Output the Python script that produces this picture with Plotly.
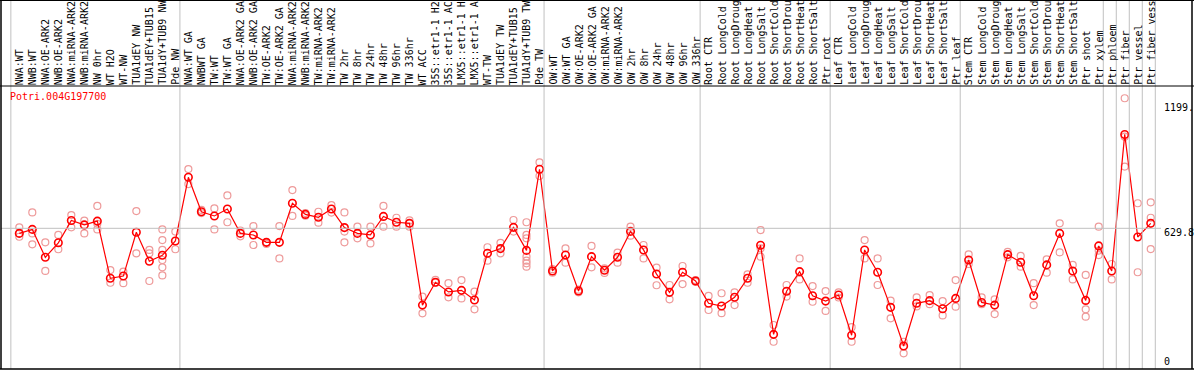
import plotly.graph_objects as go

gene = "Potri.004G197700"

categories = [
    "NWA:WT", "NWB:WT", "NWA:OE-ARK2", "NWB:OE-ARK2", "NWA:miRNA-ARK2", "NWB:miRNA-ARK2",
    "NW 0hr", "WT H2O", "WT-NW", "TUA1dEY NW", "TUA1dEY+TUB15", "TUA1dY+TUB9 NW", "Pde NW",
    "NWA:WT GA", "NWBWT GA", "TW:WT", "TW:WT GA", "NWA:OE-ARK2 GA", "NWB:OE-ARK2 GA",
    "TW:OE-ARK2", "TW:OE-ARK2 GA", "NWA:miRNA-ARK2", "NWB:miRNA-ARK2", "TW:miRNA-ARK2",
    "TW:miRNA-ARK2", "TW 2hr", "TW 8hr", "TW 24hr", "TW 48hr", "TW 96hr", "TW 336hr",
    "WT ACC", "35S::etr1-1 H2", "35S::etr1-1 AC", "LMX5::etr1-1 H", "LMX5::etr1-1 A",
    "WT-TW", "TUA1dEY TW", "TUA1dEY+TUB15", "TUA1dY+TUB9 TW", "Pde TW",
    "OW:WT", "OW:WT GA", "OW:OE-ARK2", "OW:OE-ARK2 GA", "OW:miRNA-ARK2", "OW:miRNA-ARK2",
    "OW 2hr", "OW 8hr", "OW 24hr", "OW 48hr", "OW 96hr", "OW 336hr",
    "Root CTR", "Root LongCold", "Root LongDroug", "Root LongHeat", "Root LongSalt",
    "Root ShortCold", "Root ShortDrou", "Root ShortHeat", "Root ShortSalt", "Ptr root",
    "Leaf CTR", "Leaf LongCold", "Leaf LongDroug", "Leaf LongHeat", "Leaf LongSalt",
    "Leaf ShortCold", "Leaf ShortDrou", "Leaf ShortHeat", "Leaf ShortSalt", "Ptr leaf",
    "Stem CTR", "Stem LongCold", "Stem LongDroug", "Stem LongHeat", "Stem LongSalt",
    "Stem ShortCold", "Stem ShortDrou", "Stem ShortHeat", "Stem ShortSalt", "Ptr shoot",
    "Ptr xylem", "Ptr phloem", "Ptr fiber", "Ptr vessel", "Ptr fiber vess",
]

group_sizes = [13, 28, 12, 10, 10, 11, 1, 1, 1, 1]

means = [
    607, 625, 500, 565, 665, 645, 662, 406, 416, 612, 482, 509, 573,
    858, 704, 685, 716, 607, 600, 567, 567, 742, 692, 679, 716, 633, 607, 600,
    683, 657, 652, 286, 388, 345, 352, 309, 518, 539, 634, 531, 894,
    439, 510, 349, 503, 442, 500, 616, 533, 425, 343, 433, 394,
    294, 282, 321, 406, 554, 155, 348, 436, 328, 304,
    331, 151, 533, 433, 276, 103, 294, 306, 270, 316,
    488, 298, 286, 512, 478, 328, 466, 607, 439, 307, 551,
    439, 1050, 591, 652,
]

replicates = [
    [634, 607, 592], [701, 607, 558], [567, 439], [600, 536], [689, 634], [664, 607],
    [730, 625, 650], [443, 386], [436, 384], [707, 518], [533, 518, 394],
    [625, 577, 533, 488, 455, 419], [615, 536],
    [895, 828], [712, 698], [719, 625], [777, 657], [620, 594], [640, 555], [567, 560],
    [640, 495], [801, 685], [698, 686], [704, 655], [734, 700], [701, 615, 567],
    [637, 585], [637, 562], [730, 637], [677, 637], [665, 637], [324, 249], [399, 386],
    [384, 321], [398, 316], [346, 267], [545, 485], [565, 518], [667, 615],
    [657, 600, 585, 503, 485, 473, 458], [925, 864],
    [431, 447], [540, 476], [355, 343], [551, 455], [450, 430], [521, 476], [637, 597],
    [555, 495], [454, 375], [376, 312], [461, 380], [398, 390],
    [327, 264], [339, 250], [343, 286], [424, 386], [622, 540, 503], [197, 122],
    [376, 324], [495, 401], [371, 301], [349, 260],
    [343, 320], [187, 122], [577, 495], [495, 376], [306, 227], [122, 70], [321, 280],
    [331, 290], [304, 240], [398, 279],
    [513, 470], [321, 290], [312, 246], [524, 500], [506, 458], [384, 286], [491, 431],
    [652, 522], [466, 401], [421, 267, 234], [637, 510, 530],
    [470, 401], [1212, 1040, 906], [742, 433], [746, 677, 537],
]

ref_value = 629.8
y_ticks = [(1199, "1199."), (629.8, "629.8"), (0, "0")]

# ---- geometry ----
W, H = 1194, 370
ML, MR, MT, MB = 1, 2, 86, 1
plot_w = W - ML - MR
plot_h = H - MT - MB
x0_px, dx_px = 19.3, 13.005          # pixel of category 0 and spacing
xr0 = (ML - x0_px) / dx_px
xr1 = (ML + plot_w - x0_px) / dx_px
y_top = 1266.8

idx = list(range(len(categories)))
rx, ry = [], []
for i, reps in enumerate(replicates):
    for v in reps:
        rx.append(i)
        ry.append(v)

fig = go.Figure()
fig.add_trace(go.Scatter(
    x=rx, y=ry, mode="markers",
    marker=dict(symbol="circle-open", size=7, color="#ee9a9a", line=dict(width=1.2)),
    hoverinfo="skip", showlegend=False,
))
fig.add_trace(go.Scatter(
    x=idx, y=means, mode="lines+markers",
    line=dict(color="#ff0000", width=1.2),
    marker=dict(symbol="circle-open", size=7.5, color="#ff0000", line=dict(width=1.6)),
    text=categories, showlegend=False,
))

shapes = []
gray = "#c0c0c0"
top_paper = (H - MB) / plot_h
bounds = [0]
for g in group_sizes:
    bounds.append(bounds[-1] + g)
for k in bounds:
    shapes.append(dict(type="line", xref="x", yref="paper", x0=k - 0.65, x1=k - 0.65,
                       y0=0, y1=top_paper, line=dict(color=gray, width=1)))
shapes.append(dict(type="line", xref="paper", yref="y", x0=0, x1=(1161 - ML) / plot_w,
                   y0=ref_value, y1=ref_value, line=dict(color=gray, width=1)))
# borders
shapes.append(dict(type="line", xref="paper", yref="paper", x0=-0.001, x1=1.01, y0=1, y1=1,
                   line=dict(color="black", width=1)))
shapes.append(dict(type="line", xref="paper", yref="paper", x0=-0.001, x1=1.01,
                   y0=(H - MB - 0.5) / plot_h, y1=(H - MB - 0.5) / plot_h,
                   line=dict(color="black", width=1)))
shapes.append(dict(type="line", xref="paper", yref="paper", x0=-0.001, x1=1.01, y0=0, y1=0,
                   line=dict(color="black", width=1.5)))
shapes.append(dict(type="line", xref="paper", yref="paper", x0=0, x1=0, y0=0, y1=top_paper,
                   line=dict(color="black", width=1.5)))
shapes.append(dict(type="line", xref="paper", yref="paper", x0=1, x1=1, y0=0, y1=top_paper,
                   line=dict(color="black", width=1.5)))

font = "DejaVu Sans Mono"
annotations = []
for i, c in enumerate(categories):
    annotations.append(dict(
        x=i, y=1, xref="x", yref="paper", text=c, showarrow=False, textangle=-90,
        xanchor="center", yanchor="bottom", xshift=0, yshift=0, borderpad=0,
        font=dict(family=font, size=10, color="black"),
    ))
annotations.append(dict(
    x=(9 - ML) / plot_w, y=(H - MB - 96.7) / plot_h, xref="paper", yref="paper",
    text=gene, showarrow=False, xanchor="left", yanchor="middle", borderpad=0,
    font=dict(family=font, size=10, color="#ff0000"),
))
label_y_px = {"1199.": 107, "629.8": 232.7, "0": 361.7}
for v, t in y_ticks:
    annotations.append(dict(
        x=(1163 - ML) / plot_w, y=(H - MB - label_y_px[t]) / plot_h, xref="paper", yref="paper",
        text=t, showarrow=False, xanchor="left", yanchor="middle", borderpad=0,
        font=dict(family=font, size=10, color="black"),
    ))

fig.update_layout(
    width=W, height=H,
    margin=dict(l=ML, r=MR, t=MT, b=MB, pad=0),
    paper_bgcolor="white", plot_bgcolor="white",
    xaxis=dict(range=[xr0, xr1], visible=False, fixedrange=True),
    yaxis=dict(range=[0, y_top], visible=False, fixedrange=True),
    shapes=shapes, annotations=annotations, showlegend=False,
)

fig.write_html("out.html", config={"displayModeBar": False},
               post_script="document.body.style.margin='0';document.body.style.overflow='hidden';")
